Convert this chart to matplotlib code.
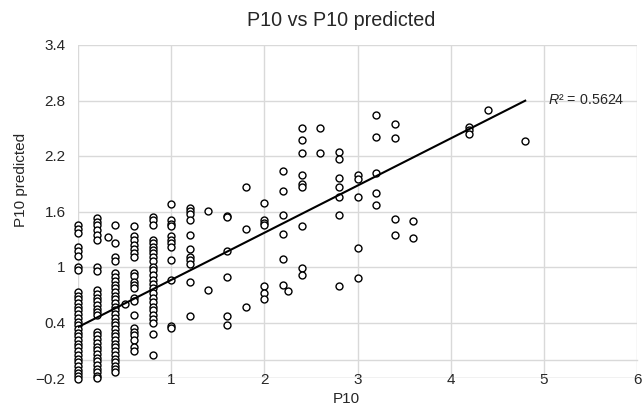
import numpy as np
import matplotlib.pyplot as plt

plt.rcParams['font.family'] = ['Liberation Sans', 'DejaVu Sans']
plt.rcParams['mathtext.fontset'] = 'custom'
plt.rcParams['mathtext.rm'] = 'Liberation Sans'
plt.rcParams['mathtext.it'] = 'Liberation Sans:italic'

# predicted values for the crowded low P10 columns
pred_x00 = [1.45, 1.41, 1.37, 1.22, 1.17, 1.12, 1.00, 0.97, 0.73, 0.69, 0.65, 0.61,
            0.57, 0.53, 0.49, 0.45, 0.41, 0.37, 0.33, 0.29, 0.25, 0.21, 0.17, 0.13,
            0.09, 0.05, 0.01, -0.03, -0.07, -0.11, -0.15, -0.18, -0.21]
pred_x02 = [1.53, 1.49, 1.45, 1.40, 1.35, 1.29, 1.00, 0.96, 0.75, 0.71, 0.67, 0.63,
            0.59, 0.55, 0.51, 0.48, 0.30, 0.26, 0.22, 0.18, 0.14, 0.10, 0.06, 0.02,
            -0.02, -0.06, -0.10, -0.14, -0.18, -0.20]
pred_x04 = [1.45, 1.26, 1.11, 1.07, 0.93, 0.89, 0.85, 0.81, 0.77, 0.73, 0.69, 0.65,
            0.61, 0.57, 0.53, 0.49, 0.45, 0.41, 0.37, 0.33, 0.29, 0.25, 0.21, 0.17,
            0.13, 0.09, 0.05, 0.01, -0.03, -0.07, -0.10, -0.13]
pred_x06 = [1.44, 1.33, 1.29, 1.24, 1.20, 1.15, 1.11, 0.93, 0.90, 0.84, 0.81, 0.77,
            0.66, 0.63, 0.48, 0.34, 0.30, 0.26, 0.21, 0.14, 0.09]
pred_x08 = [1.54, 1.51, 1.45, 1.29, 1.26, 1.22, 1.18, 1.15, 1.11, 1.06, 1.00, 0.97,
            0.91, 0.86, 0.82, 0.77, 0.72, 0.66, 0.62, 0.57, 0.53, 0.48, 0.44, 0.39,
            0.28, 0.05]
pred_x10 = [1.68, 1.51, 1.47, 1.44, 1.33, 1.29, 1.26, 1.22, 1.08, 0.86, 0.36, 0.34]
pred_x12 = [1.64, 1.61, 1.57, 1.51, 1.35, 1.19, 1.11, 1.08, 1.03, 0.84, 0.47]
col_p10 = [0.0, 0.2, 0.4, 0.6, 0.8, 1.0, 1.2]
col_pred = [pred_x00, pred_x02, pred_x04, pred_x06, pred_x08, pred_x10, pred_x12]

# the sparser points further right
p10_other = [0.32, 0.5,
             1.4, 1.4,
             1.6, 1.6, 1.6, 1.6, 1.6, 1.6,
             1.8, 1.8, 1.8,
             2.0, 2.0, 2.0, 2.0, 2.0, 2.0, 2.0,
             2.2, 2.2, 2.2, 2.2, 2.2, 2.2, 2.25,
             2.4, 2.4, 2.4, 2.4, 2.4, 2.4, 2.4, 2.4, 2.4,
             2.6, 2.6,
             2.8, 2.8, 2.8, 2.8, 2.8, 2.8, 2.8,
             3.0, 3.0, 3.0, 3.0, 3.0,
             3.2, 3.2, 3.2, 3.2, 3.2,
             3.4, 3.4, 3.4, 3.4,
             3.6, 3.6,
             4.2, 4.2, 4.2,
             4.4,
             4.8]
pred_other = [1.32, 0.60,
              1.61, 0.75,
              1.55, 1.54, 1.17, 0.89, 0.47, 0.37,
              1.86, 1.41, 0.57,
              1.69, 1.51, 1.48, 1.45, 0.80, 0.72, 0.65,
              2.04, 1.82, 1.56, 1.36, 1.09, 0.81, 0.74,
              2.50, 2.37, 2.23, 1.99, 1.90, 1.86, 1.44, 0.99, 0.91,
              2.50, 2.23,
              2.24, 2.17, 1.96, 1.86, 1.76, 1.56, 0.79,
              1.99, 1.95, 1.76, 1.21, 0.88,
              2.64, 2.41, 2.02, 1.80, 1.67,
              2.55, 2.40, 1.52, 1.35,
              1.50, 1.31,
              2.51, 2.48, 2.44,
              2.70,
              2.36]

# linear trendline as shown in the chart
trend_intercept = 0.35
trend_slope = 0.51
r2_text = '$R$² = 0.5624'

x_ticks = [0, 1, 2, 3, 4, 5, 6]
x_ticklabels = ['', '1', '2', '3', '4', '5', '6']
y_ticks = [-0.2, 0.4, 1.0, 1.6, 2.2, 2.8, 3.4]
y_ticklabels = ['\u22120.2', '0.4', '1', '1.6', '2.2', '2.8', '3.4']

p10 = []
pred = []
for xv, ys in zip(col_p10, col_pred):
    p10 += [xv] * len(ys)
    pred += ys
p10 += p10_other
pred += pred_other
p10 = np.array(p10)
pred = np.array(pred)

W, H = 643, 407
fig = plt.figure(figsize=(W / 100, H / 100), dpi=100)
ax = fig.add_axes([78 / W, 1 - 378 / H, (637 - 78) / W, (378 - 45) / H])

grid_c = '#d9d9d9'
text_c = '#262626'

ax.set_xlim(0, 6)
ax.set_ylim(-0.2, 3.4)
ax.set_xticks(x_ticks)
ax.set_xticklabels(x_ticklabels)
ax.set_yticks(y_ticks)
ax.set_yticklabels(y_ticklabels)
ax.grid(True, color=grid_c, linewidth=1.0)
ax.set_axisbelow(True)
for s in ['top', 'right', 'left']:
    ax.spines[s].set_visible(False)
ax.spines['bottom'].set_position(('data', 0))
ax.spines['bottom'].set_color(grid_c)
ax.spines['bottom'].set_linewidth(1.0)
ax.axhline(-0.2, color=grid_c, linewidth=1.0, zorder=0)
ax.tick_params(axis='both', length=0, labelsize=11, labelcolor=text_c)
ax.tick_params(axis='x', pad=9.5)
ax.tick_params(axis='y', pad=9)

ax.plot(p10, pred, linestyle='none', marker='o', markersize=5,
        markerfacecolor='white', markeredgecolor='black', markeredgewidth=1.0,
        zorder=3, clip_on=False)

xs = np.array([0, p10.max()])
ax.plot(xs, trend_intercept + trend_slope * xs, color='black', linewidth=1.5,
        zorder=4)
ax.text(5.04, 2.80, r2_text, fontsize=10.3, color=text_c, ha='left',
        va='center')

fig.text(341 / W, 1 - 20 / H, 'P10 vs P10 predicted', fontsize=14.2,
         color=text_c, ha='center', va='center')
fig.text(346 / W, 1 - 399 / H, 'P10', fontsize=11, color=text_c,
         ha='center', va='center')
fig.text(21 / W, 1 - 180 / H, 'P10 predicted', fontsize=11, color=text_c,
         ha='center', va='center', rotation=90)

fig.savefig('out.png', dpi=100)
